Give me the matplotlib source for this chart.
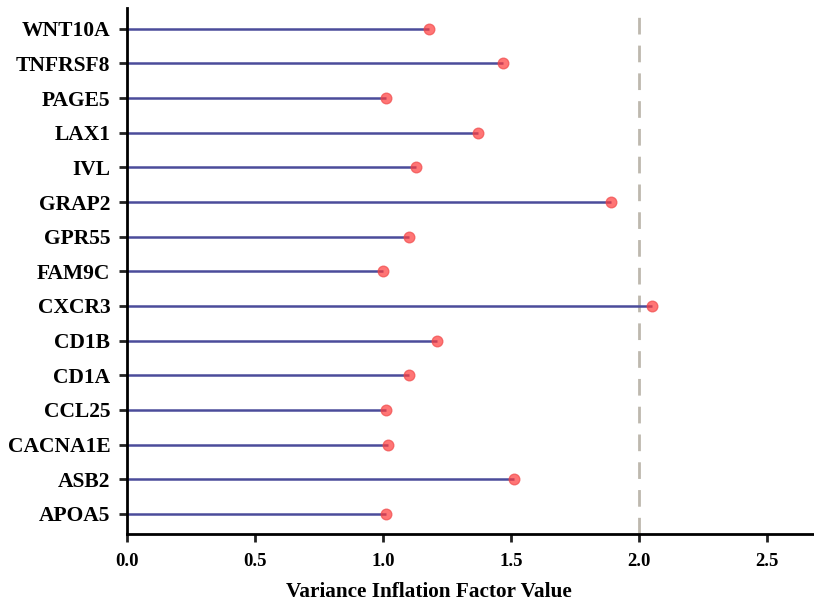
import matplotlib.pyplot as plt

plt.rcParams['font.family'] = ['Liberation Serif', 'DejaVu Serif']
plt.rcParams['font.weight'] = 'bold'

genes = ["APOA5", "ASB2", "CACNA1E", "CCL25", "CD1A", "CD1B", "CXCR3",
         "FAM9C", "GPR55", "GRAP2", "IVL", "LAX1", "PAGE5", "TNFRSF8", "WNT10A"]
vif = [1.01, 1.51, 1.02, 1.01, 1.10, 1.21, 2.05,
       1.00, 1.10, 1.89, 1.13, 1.37, 1.01, 1.47, 1.18]
threshold = 2.0

fig = plt.figure(figsize=(8.14, 6.02), dpi=100)
ax = fig.add_axes([127 / 814, 1 - 534 / 602, 1 - 127 / 814, (534 - 8) / 602])

ypos = range(len(genes))
ax.axvline(threshold, color="#bdb8ae", lw=2, ls=(0, (6, 4)), zorder=1)
ax.hlines(ypos, 0, vif, color="#4b4c9a", lw=1.8, zorder=2)
ax.scatter(vif, ypos, s=60, color="#ff3b3b", alpha=0.7, edgecolors="#f04848",
           linewidths=0.9, zorder=3)

ax.set_xlim(0, 2.684)
ax.set_ylim(-0.58, 14.6)
ax.set_yticks(list(ypos))
ax.set_yticklabels(genes, fontsize=15.5, fontweight="bold")
ax.set_xticks([0, 0.5, 1.0, 1.5, 2.0, 2.5])
ax.set_xticklabels(["0.0", "0.5", "1.0", "1.5", "2.0", "2.5"], fontsize=13.5, fontweight="bold")
ax.set_xlabel("Variance Inflation Factor Value", fontsize=15.3, fontweight="bold")
ax.xaxis.set_label_coords(0.439, -0.092)

for side in ["top", "right"]:
    ax.spines[side].set_visible(False)
for side in ["left", "bottom"]:
    ax.spines[side].set_linewidth(2)
ax.tick_params(axis="both", length=6, width=2, color="#222222")
ax.tick_params(axis="y", pad=6)
ax.tick_params(axis="x", pad=8)

# panel letter, mostly cut off at the figure edge
fig.text(-0.017, 0.995, "A", fontsize=13, fontweight="bold", va="top")

fig.savefig("out.png", dpi=100)
